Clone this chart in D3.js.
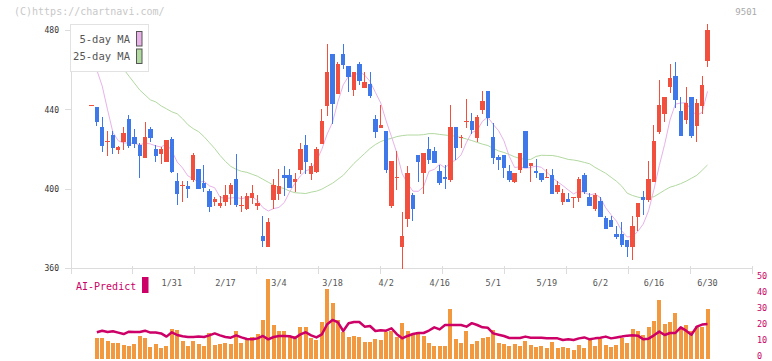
<!DOCTYPE html>
<html><head><meta charset="utf-8">
<script src="https://cdn.jsdelivr.net/npm/d3@7"></script>
<style>body{margin:0;background:#fff}svg{display:block}</style>
</head><body><svg id="c" width="772" height="361"></svg>
<script>
const dates = ["1/9","1/10","1/14","1/15","1/16","1/17","1/20","1/21","1/22","1/23","1/24","1/27","1/28","1/29","1/30","1/31",
"2/3","2/4","2/5","2/6","2/7","2/10","2/12","2/13","2/14","2/17","2/18","2/19","2/20","2/21","2/25","2/26","2/27","2/28",
"3/3","3/4","3/5","3/6","3/7","3/10","3/11","3/12","3/13","3/14","3/17","3/18","3/19","3/21","3/24","3/25","3/26","3/27","3/28","3/31",
"4/1","4/2","4/3","4/4","4/7","4/8","4/9","4/10","4/11","4/14","4/15","4/16","4/17","4/18","4/21","4/22","4/23","4/24","4/25","4/28","4/30",
"5/1","5/2","5/7","5/8","5/9","5/12","5/13","5/14","5/15","5/16","5/19","5/20","5/21","5/22","5/23","5/26","5/27","5/28","5/29","5/30",
"6/2","6/3","6/4","6/5","6/6","6/9","6/10","6/11","6/12","6/13","6/16","6/17","6/18","6/19","6/20","6/23","6/24","6/25","6/26","6/27","6/30"];

const openP = [442.3,441.4,431.3,424.1,427.3,419.9,424.0,435.4,426.3,422.3,415.9,430.3,420.3,417.9,413.8,425.3,
404.1,402.1,401.4,404.8,410.4,403.1,399.1,393.7,391.7,393.7,397.7,405.1,391.8,390.1,395.5,391.7,376.4,371.0,
394.7,397.7,407.1,407.1,403.8,409.8,422.3,407.6,408.8,422.9,442.1,468.2,448.2,468.2,462.1,450.2,463.1,451.2,453.0,435.4,
431.0,429.3,391.7,406.1,371.0,385.0,397.1,417.2,407.9,420.3,419.2,409.2,406.1,404.8,431.3,426.3,434.4,434.4,426.0,440.1,449.5,
426.3,416.1,417.2,409.2,403.8,409.8,429.3,411.8,409.2,408.1,406.1,407.1,398.7,393.7,394.9,396.1,395.7,407.1,396.1,390.0,
394.0,385.6,384.6,377.6,377.6,374.6,370.8,386.0,396.1,394.7,403.8,429.0,438.1,451.3,457.1,439.4,435.0,446.5,432.0,442.1,464.8];
const highP = [442.3,441.4,436.4,429.2,429.3,422.0,431.3,437.4,430.3,423.3,433.7,431.3,422.3,421.3,424.6,426.3,
408.1,404.1,404.1,418.2,410.4,412.4,400.1,396.0,396.4,402.1,403.1,417.5,396.4,398.3,402.1,397.1,386.5,385.4,
405.1,410.4,411.5,410.4,408.1,423.4,427.3,413.2,421.3,440.4,473.2,468.2,464.3,473.2,462.1,459.1,464.1,459.1,459.1,437.4,
442.4,429.3,414.2,419.2,388.6,411.5,398.1,417.2,418.2,426.3,421.3,412.2,412.2,442.4,431.3,427.3,445.5,438.4,437.4,449.5,449.5,
433.4,417.2,417.2,412.2,408.1,418.2,429.3,413.2,415.2,408.1,410.4,410.4,404.1,400.1,398.3,396.1,406.1,408.1,398.3,398.1,
396.1,386.3,386.3,381.6,383.6,374.6,386.6,393.1,399.1,414.2,432.4,455.0,446.5,463.1,464.1,446.5,451.5,446.5,445.5,457.1,483.3];
const lowP = [442.3,431.8,418.9,416.9,417.9,417.9,419.9,420.9,420.9,405.8,415.9,424.0,413.8,412.8,413.8,407.9,
392.0,393.7,395.5,403.8,400.0,398.7,388.6,391.3,390.4,391.7,392.0,391.0,388.6,389.4,392.5,389.3,371.0,371.0,
390.0,394.7,396.7,400.8,398.7,407.6,407.6,404.8,407.9,422.9,437.1,433.0,448.2,460.8,449.2,447.1,452.5,451.2,446.1,426.0,
431.0,407.9,390.7,399.6,359.7,380.9,384.0,403.8,397.7,412.8,413.1,401.9,400.1,403.8,414.8,420.9,431.0,427.9,424.0,438.1,432.1,
412.8,409.8,405.8,403.8,402.9,407.9,410.8,403.8,405.8,403.8,405.8,397.7,397.7,392.0,393.7,390.7,393.7,397.7,391.7,389.0,
385.9,379.8,380.9,375.0,370.6,365.8,364.4,378.9,386.8,393.7,403.8,428.0,434.0,448.3,440.9,427.0,433.0,426.0,424.0,438.1,461.8];
const closeP = [442.3,434.0,421.9,424.1,420.9,421.3,428.3,421.9,422.9,416.9,426.3,425.9,416.9,420.3,424.6,408.9,
397.7,402.1,400.0,417.1,400.0,400.6,390.8,394.9,393.1,397.0,402.1,392.0,391.8,396.4,398.3,393.1,374.0,383.4,
402.1,401.4,405.8,400.8,405.1,420.3,413.8,411.5,420.3,434.4,459.2,443.1,463.3,462.8,456.7,459.1,454.7,454.0,447.1,429.0,
432.4,409.8,414.2,406.1,376.4,408.1,390.0,413.8,418.2,414.8,413.1,402.9,404.9,431.3,420.9,426.3,434.4,430.0,436.4,444.5,436.1,
415.9,414.8,410.8,404.8,408.1,418.2,410.8,413.2,407.9,404.8,406.1,397.7,402.1,398.3,393.7,396.1,405.1,398.7,391.7,397.1,
385.9,379.8,380.9,375.9,371.9,370.8,381.6,393.1,394.7,405.1,424.3,442.4,446.5,456.1,445.0,427.0,443.4,427.0,443.4,452.5,480.3];

const ma5 = [467,460,452,440,428.6,424.4,423.3,423.3,423.1,422.3,423.3,422.8,421.8,421.3,422.8,419.3,
413.7,410.7,406.7,405.2,403.4,404.0,401.7,400.7,395.9,395.3,395.6,395.8,395.2,395.9,396.1,394.3,390.7,389.0,
390.2,390.8,393.3,398.7,403.0,406.7,409.2,410.3,414.2,420.1,427.8,433.7,444.1,452.6,457.0,457.0,459.3,457.5,454.3,448.8,
443.4,434.5,426.5,418.3,407.8,402.9,399.0,398.9,401.3,409.0,410.0,412.6,410.8,413.4,414.6,417.3,423.6,428.6,429.6,434.3,436.3,
432.6,429.5,424.4,416.5,410.9,411.3,410.5,411.0,411.6,411.0,408.6,405.9,403.7,401.8,399.6,397.6,399.1,398.4,397.1,397.7,
395.7,390.6,387.1,383.9,378.9,375.9,376.2,378.7,382.4,389.1,399.8,411.9,422.6,434.9,442.9,443.4,443.6,439.7,437.2,438.7,449.3];
const ma25 = [470,469,468,466.5,465,463,460.5,457,453.5,450,447.5,445,444,442,440.5,439,
438,435.5,432.5,430.5,429,426.5,423.5,420.5,417,414,411.5,410,409,408.5,407.5,406.5,405,403.5,
402,401,400.3,399,398.2,398,397.8,398.5,399,400,401.5,403,405,407,410,413,415.5,418,420.5,422.5,
424,425,425.6,426.5,427,427.3,427.3,427.3,427.5,428,428,427.6,427.3,427,426.7,426,425.3,424.5,423.6,422.7,422,
420.5,419.3,418.5,417.5,416.3,415.5,415,415,416.5,417.1,417,417,416.5,415.8,415,414.7,414.2,413.5,412.8,411,
409.5,408,406,404,401.5,398,396.8,396,395.4,395.7,396.2,397.8,399.5,401,401.8,402.8,404,405.5,407,409.5,412.2];

const volume = [null,13.1,13.1,11.25,10,10,8.75,8.1,9.4,14.4,13.1,7.5,9.4,6.9,8.1,18.75,
18.1,11.25,8.1,11.25,9.4,8.1,16.25,8.75,9.4,10,9.4,17.5,10,12.5,13.75,15.6,24.4,50,
21.25,17.5,17.5,14.4,14.4,20,20,13.1,11.9,23.1,43.75,35,24.4,16.9,13.75,14.4,13.75,10.6,10.6,12.5,
11.9,16.9,17.5,14,22.5,17.5,15.7,15.8,14.4,10,8.1,8.1,8.1,31.25,12.5,10,17.5,9.4,11.25,13.1,13.75,
18.1,10,9.4,8.1,9.4,8.1,11.25,8.75,7.5,8.1,6.9,10.6,6.9,7.5,6.9,5.6,8.75,6.9,11.9,8.1,
12.5,8.75,7.5,8.75,13.1,10,18.75,17.5,15,20,23.75,36.9,21.9,23.1,28.75,20,21.25,17.5,20.6,20,31.25];
const aiPredict = [null,16.7,17.7,16.9,17.3,16.5,15.6,17.1,16.9,16.9,17.7,16.5,16.5,16.0,14.0,16.7,
15.0,14.2,13.75,13.75,14.0,13.75,14.8,16.0,14.8,13.75,13.3,14.8,13.5,12.5,12.3,12.9,14.4,12.3,
13.75,14.4,14.4,14.2,13.1,15.4,16.7,14.8,13.5,15.4,21.7,24.4,22.9,17.5,22.3,23.1,23.1,20.2,20.6,17.5,
17.9,17.7,19.2,15.5,12.9,14.4,15.6,16.25,16.25,17.8,19.8,18.5,21.25,21.25,21.25,21.25,20.2,22.4,21.25,19.8,19.5,
16.0,15.2,14.4,13.1,13.1,13.1,14.0,13.3,13.3,13.3,12.9,12.9,12.9,11.9,12.3,11.9,12.9,13.5,12.3,12.9,
13.3,14.0,12.9,13.5,14.0,14.6,14.8,14.6,12.3,12.7,14.8,17.1,15.0,16.25,16.25,19.8,17.7,15.2,20.2,21.5,21.9];

const dateTicks = ["1/31","2/17","3/4","3/18","4/2","4/16","5/1","5/19","6/2","6/16","6/30"];
const priceTicks = [360,400,440,480];
const aiTicks = [0,10,20,30,40,50];
const legendItems = ["5-day MA","25-day MA"];

const C = {red:"#f2503f", blue:"#3f78e8", ma5:"#e8b2e8", ma25:"#b2d9a0", vol:"#f2983f", ai:"#cc0066", axis:"#dcdcdc", text:"#444"};
const FONT = "'DejaVu Sans Mono', monospace";

const svg = d3.select("#c");
const x = d3.scalePoint().domain(dates).range([91.5, 707.5]);
const y = d3.scaleLinear().domain([360,480]).range([268.5,30.5]);
const yv = d3.scaleLinear().domain([0,50]).range([359,279]);
const gridX = d3.scaleLinear().domain([0,11]).range([71,752.3]);

// header texts
svg.append("text").attr("x",14).attr("y",15).attr("font-family",FONT).attr("font-size",10)
  .attr("fill","#c8c8c8").text("(C)https://chartnavi.com/");
svg.append("text").attr("x",757).attr("y",15).attr("text-anchor","end").attr("font-family",FONT).attr("font-size",9)
  .attr("fill","#aaa").text("9501");

// axes
const ax = svg.append("g").attr("shape-rendering","crispEdges").attr("stroke",C.axis);
ax.append("line").attr("x1",71).attr("x2",71).attr("y1",25).attr("y2",268.5);
ax.append("line").attr("x1",65).attr("x2",752.3).attr("y1",268.5).attr("y2",268.5);
ax.selectAll(".gt").data(d3.range(12)).join("line").attr("x1",d=>gridX(d)).attr("x2",d=>gridX(d)).attr("y1",265.5).attr("y2",273.5);
ax.selectAll(".yt").data(priceTicks).join("line").attr("x1",65).attr("x2",71).attr("y1",d=>y(d)).attr("y2",d=>y(d));
svg.selectAll(".yl").data(priceTicks).join("text").attr("x",59).attr("y",d=>y(d)).attr("dy","0.35em")
  .attr("text-anchor","end").attr("font-family",FONT).attr("font-size",8).attr("fill","#333").text(d=>d);

// moving averages
const line = d3.line().defined(d=>d!=null).x((d,i)=>x(dates[i])).y(d=>y(d));
svg.append("path").datum(ma25).attr("d",line).attr("fill","none").attr("stroke",C.ma25).attr("stroke-width",1);
svg.append("path").datum(ma5).attr("d",line).attr("fill","none").attr("stroke",C.ma5).attr("stroke-width",1);

// candles
const candles = svg.append("g").attr("shape-rendering","crispEdges");
const idx = d3.range(dates.length);
const col = i => closeP[i] >= openP[i] ? C.red : C.blue;
candles.selectAll(".w").data(idx).join("line")
  .attr("x1",i=>x(dates[i])).attr("x2",i=>x(dates[i]))
  .attr("y1",i=>y(highP[i])).attr("y2",i=>y(lowP[i])).attr("stroke",col).attr("stroke-width",1);
candles.selectAll(".b").data(idx).join("rect")
  .attr("x",i=>x(dates[i])-2.2).attr("width",4.4)
  .attr("y",i=>y(Math.max(openP[i],closeP[i])))
  .attr("height",i=>Math.max(1, y(Math.min(openP[i],closeP[i]))-y(Math.max(openP[i],closeP[i]))))
  .attr("fill",col);

// legend
const lg = svg.append("g");
lg.append("rect").attr("x",70.5).attr("y",24.5).attr("width",78).attr("height",47).attr("fill","#fff").attr("stroke","#e2e2e2");
lg.selectAll(".lt").data(legendItems).join("text").attr("x",130).attr("y",(d,i)=>43+i*17)
  .attr("text-anchor","end").attr("font-family",FONT).attr("font-size",10.5).attr("fill","#555").text(d=>d);
lg.selectAll(".ls").data(legendItems).join("rect").attr("x",136.5).attr("y",(d,i)=>31.5+i*17.5)
  .attr("width",5.5).attr("height",14.5).attr("fill",(d,i)=>i?C.ma25:C.ma5).attr("stroke","#555").attr("stroke-width",1);

// lower panel: volume bars
svg.append("g").attr("shape-rendering","crispEdges").selectAll("rect").data(idx.filter(i=>volume[i]!=null)).join("rect")
  .attr("x",i=>x(dates[i])-2).attr("width",4)
  .attr("y",i=>yv(volume[i])).attr("height",i=>yv(0)-yv(volume[i])).attr("fill",C.vol);

// AI predict line
const aline = d3.line().defined(d=>d!=null).x((d,i)=>x(dates[i])).y(d=>yv(d));
svg.append("path").datum(aiPredict).attr("d",aline).attr("fill","none").attr("stroke",C.ai).attr("stroke-width",2.5).attr("stroke-linejoin","round");

// date labels
svg.selectAll(".dl").data(dateTicks).join("text").attr("x",d=>x(d)).attr("y",286)
  .attr("text-anchor","middle").attr("font-family",FONT).attr("font-size",8.5).attr("fill","#555").text(d=>d);

// right axis
svg.selectAll(".rl").data(aiTicks).join("text").attr("x",757).attr("y",d=>yv(d)).attr("dy","0.05em")
  .attr("font-family",FONT).attr("font-size",8.5).attr("fill",C.ai).text(d=>d);

// AI-Predict label
svg.append("text").attr("x",76).attr("y",290).attr("font-family",FONT).attr("font-size",10).attr("fill",C.ai).text("AI-Predict");
svg.append("rect").attr("x",142).attr("y",277).attr("width",6.5).attr("height",16).attr("fill",C.ai);
</script></body></html>
